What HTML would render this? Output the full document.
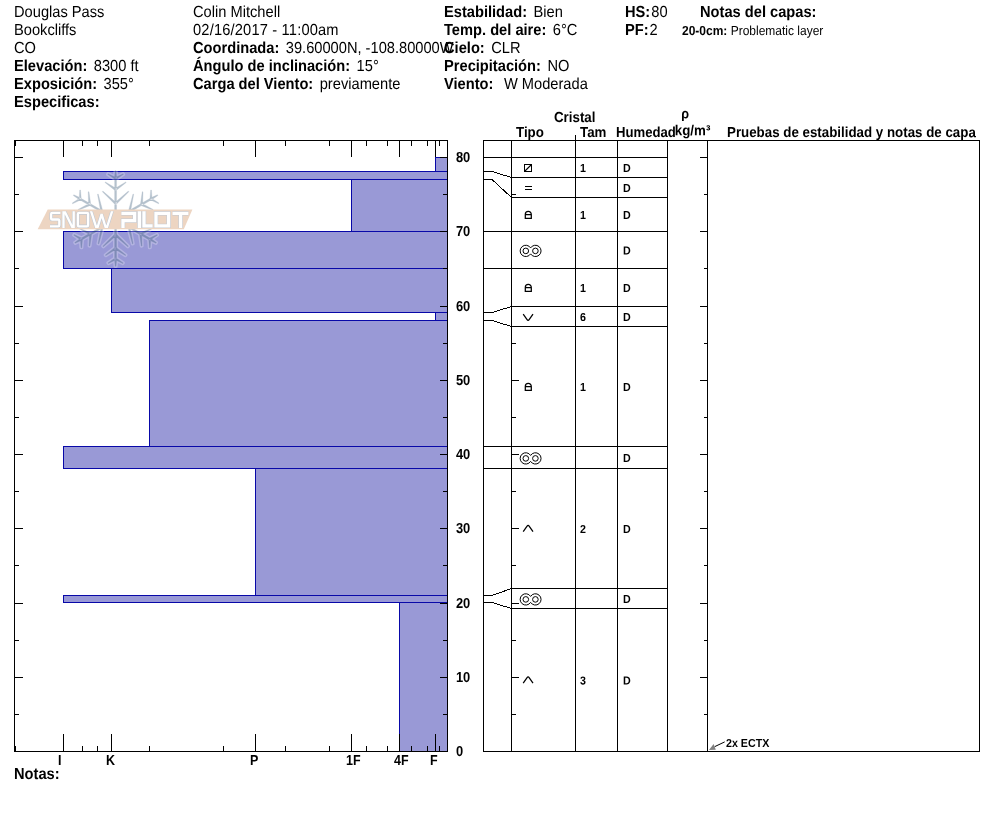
<!DOCTYPE html>
<html><head><meta charset="utf-8"><title>Snow Pit Profile</title>
<style>html,body{margin:0;padding:0;background:#fff;}body{width:994px;height:840px;position:relative;overflow:hidden;font-family:'Liberation Sans',sans-serif;}</style>
</head><body>
<svg width="994" height="840" viewBox="0 0 994 840" style="position:absolute;left:0;top:0;will-change:transform;font-family:'Liberation Sans',sans-serif;" fill="#000">
<rect width="994" height="840" fill="#fff"/>
<text transform="translate(14,16.9) rotate(0.03) scale(0.9174,1)" font-size="15.99">Douglas Pass</text>
<text transform="translate(14,34.9) rotate(0.03) scale(0.9174,1)" font-size="15.99">Bookcliffs</text>
<text transform="translate(14,52.9) rotate(0.03) scale(0.9174,1)" font-size="15.99">CO</text>
<text transform="translate(14,70.9) rotate(0.03) scale(0.9174,1)" font-size="15.99" xml:space="preserve"><tspan font-weight="bold">Elevación:</tspan><tspan dx="2.62"> 8300 ft</tspan></text>
<text transform="translate(14,88.9) rotate(0.03) scale(0.9174,1)" font-size="15.99" xml:space="preserve"><tspan font-weight="bold">Exposición:</tspan><tspan dx="2.62"> 355°</tspan></text>
<text transform="translate(14,106.9) rotate(0.03) scale(0.9174,1)" font-size="15.99" font-weight="bold">Especificas:</text>
<text transform="translate(193,16.9) rotate(0.03) scale(0.9174,1)" font-size="15.99">Colin Mitchell</text>
<text transform="translate(193,34.9) rotate(0.03) scale(0.9174,1)" font-size="15.99" textLength="158.70" lengthAdjust="spacing">02/16/2017 - 11:00am</text>
<text transform="translate(193,52.9) rotate(0.03) scale(0.9174,1)" font-size="15.99" xml:space="preserve"><tspan font-weight="bold">Coordinada:</tspan><tspan dx="2.62"> 39.60000N, -108.80000W</tspan></text>
<text transform="translate(193,70.9) rotate(0.03) scale(0.9174,1)" font-size="15.99" xml:space="preserve"><tspan font-weight="bold">Ángulo de inclinación:</tspan><tspan dx="2.62"> 15°</tspan></text>
<text transform="translate(193,88.9) rotate(0.03) scale(0.9174,1)" font-size="15.99" xml:space="preserve"><tspan font-weight="bold">Carga del Viento:</tspan><tspan dx="2.62"> previamente</tspan></text>
<text transform="translate(444,16.9) rotate(0.03) scale(0.9174,1)" font-size="15.99" xml:space="preserve"><tspan font-weight="bold">Estabilidad:</tspan><tspan dx="2.62"> Bien</tspan></text>
<text transform="translate(444,34.9) rotate(0.03) scale(0.9174,1)" font-size="15.99" xml:space="preserve"><tspan font-weight="bold">Temp. del aire:</tspan><tspan dx="2.62"> 6°C</tspan></text>
<text transform="translate(444,52.9) rotate(0.03) scale(0.9174,1)" font-size="15.99" xml:space="preserve"><tspan font-weight="bold">Cielo:</tspan><tspan dx="2.62"> CLR</tspan></text>
<text transform="translate(444,70.9) rotate(0.03) scale(0.9174,1)" font-size="15.99" xml:space="preserve"><tspan font-weight="bold">Precipitación:</tspan><tspan dx="2.62"> NO</tspan></text>
<text transform="translate(444,88.9) rotate(0.03) scale(0.9174,1)" font-size="15.99" xml:space="preserve"><tspan font-weight="bold">Viento:</tspan><tspan dx="2.62">  W Moderada</tspan></text>
<text transform="translate(625,16.9) rotate(0.03) scale(0.9174,1)" font-size="15.99" xml:space="preserve"><tspan font-weight="bold">HS:</tspan><tspan dx="1.09">80</tspan></text>
<text transform="translate(625,34.9) rotate(0.03) scale(0.9174,1)" font-size="15.99" xml:space="preserve"><tspan font-weight="bold">PF:</tspan><tspan dx="1.09">2</tspan></text>
<text transform="translate(700,16.9) rotate(0.03) scale(0.9174,1)" font-size="15.99" font-weight="bold">Notas del capas:</text>
<text transform="translate(682,35) rotate(0.03) scale(0.9174,1)" font-size="13.08" xml:space="preserve"><tspan font-weight="bold">20-0cm:</tspan><tspan dx="0.00"> Problematic layer</tspan></text>
<text transform="translate(14,778.9) rotate(0.03) scale(0.9174,1)" font-size="15.99" font-weight="bold">Notas:</text>
<g shape-rendering="crispEdges">
<rect x="435" y="157" width="12" height="14" fill="rgba(0,0,153,0.40)"/>
<rect x="63" y="171" width="384" height="8" fill="rgba(0,0,153,0.40)"/>
<rect x="351" y="179" width="96" height="52" fill="rgba(0,0,153,0.40)"/>
<rect x="63" y="231" width="384" height="37" fill="rgba(0,0,153,0.40)"/>
<rect x="111" y="268" width="336" height="44" fill="rgba(0,0,153,0.40)"/>
<rect x="435" y="312" width="12" height="8" fill="rgba(0,0,153,0.40)"/>
<rect x="149" y="320" width="298" height="126" fill="rgba(0,0,153,0.40)"/>
<rect x="63" y="446" width="384" height="22" fill="rgba(0,0,153,0.40)"/>
<rect x="255" y="468" width="192" height="127" fill="rgba(0,0,153,0.40)"/>
<rect x="63" y="595" width="384" height="7" fill="rgba(0,0,153,0.40)"/>
<rect x="399" y="602" width="48" height="149" fill="rgba(0,0,153,0.40)"/>
<rect x="435" y="157" width="12" height="1" fill="#0808a8"/>
<rect x="435" y="171" width="12" height="1" fill="#0808a8"/>
<rect x="435" y="157" width="1" height="15" fill="#0808a8"/>
<rect x="63" y="171" width="384" height="1" fill="#0808a8"/>
<rect x="63" y="179" width="384" height="1" fill="#0808a8"/>
<rect x="63" y="171" width="1" height="9" fill="#0808a8"/>
<rect x="351" y="179" width="96" height="1" fill="#0808a8"/>
<rect x="351" y="231" width="96" height="1" fill="#0808a8"/>
<rect x="351" y="179" width="1" height="53" fill="#0808a8"/>
<rect x="63" y="231" width="384" height="1" fill="#0808a8"/>
<rect x="63" y="268" width="384" height="1" fill="#0808a8"/>
<rect x="63" y="231" width="1" height="38" fill="#0808a8"/>
<rect x="111" y="268" width="336" height="1" fill="#0808a8"/>
<rect x="111" y="312" width="336" height="1" fill="#0808a8"/>
<rect x="111" y="268" width="1" height="45" fill="#0808a8"/>
<rect x="435" y="312" width="12" height="1" fill="#0808a8"/>
<rect x="435" y="320" width="12" height="1" fill="#0808a8"/>
<rect x="435" y="312" width="1" height="9" fill="#0808a8"/>
<rect x="149" y="320" width="298" height="1" fill="#0808a8"/>
<rect x="149" y="446" width="298" height="1" fill="#0808a8"/>
<rect x="149" y="320" width="1" height="127" fill="#0808a8"/>
<rect x="63" y="446" width="384" height="1" fill="#0808a8"/>
<rect x="63" y="468" width="384" height="1" fill="#0808a8"/>
<rect x="63" y="446" width="1" height="23" fill="#0808a8"/>
<rect x="255" y="468" width="192" height="1" fill="#0808a8"/>
<rect x="255" y="595" width="192" height="1" fill="#0808a8"/>
<rect x="255" y="468" width="1" height="128" fill="#0808a8"/>
<rect x="63" y="595" width="384" height="1" fill="#0808a8"/>
<rect x="63" y="602" width="384" height="1" fill="#0808a8"/>
<rect x="63" y="595" width="1" height="8" fill="#0808a8"/>
<rect x="399" y="602" width="48" height="1" fill="#0808a8"/>
<rect x="399" y="602" width="1" height="150" fill="#0808a8"/>
<rect x="14" y="140" width="434" height="1" fill="#000"/>
<rect x="14" y="751" width="434" height="1" fill="#000"/>
<rect x="14" y="140" width="1" height="612" fill="#000"/>
<rect x="447" y="140" width="1" height="612" fill="#000"/>
<rect x="63" y="140" width="1" height="17" fill="#000"/>
<rect x="63" y="734" width="1" height="18" fill="#000"/>
<rect x="111" y="140" width="1" height="17" fill="#000"/>
<rect x="111" y="734" width="1" height="18" fill="#000"/>
<rect x="255" y="140" width="1" height="17" fill="#000"/>
<rect x="255" y="734" width="1" height="18" fill="#000"/>
<rect x="351" y="140" width="1" height="17" fill="#000"/>
<rect x="351" y="734" width="1" height="18" fill="#000"/>
<rect x="399" y="140" width="1" height="17" fill="#000"/>
<rect x="399" y="734" width="1" height="18" fill="#000"/>
<rect x="435" y="140" width="1" height="17" fill="#000"/>
<rect x="435" y="734" width="1" height="18" fill="#000"/>
<rect x="15" y="140" width="1" height="6" fill="#000"/>
<rect x="15" y="746" width="1" height="6" fill="#000"/>
<rect x="82" y="140" width="1" height="6" fill="#000"/>
<rect x="82" y="746" width="1" height="6" fill="#000"/>
<rect x="97" y="140" width="1" height="6" fill="#000"/>
<rect x="97" y="746" width="1" height="6" fill="#000"/>
<rect x="149" y="140" width="1" height="6" fill="#000"/>
<rect x="149" y="746" width="1" height="6" fill="#000"/>
<rect x="223" y="140" width="1" height="6" fill="#000"/>
<rect x="223" y="746" width="1" height="6" fill="#000"/>
<rect x="285" y="140" width="1" height="6" fill="#000"/>
<rect x="285" y="746" width="1" height="6" fill="#000"/>
<rect x="329" y="140" width="1" height="6" fill="#000"/>
<rect x="329" y="746" width="1" height="6" fill="#000"/>
<rect x="366" y="140" width="1" height="6" fill="#000"/>
<rect x="366" y="746" width="1" height="6" fill="#000"/>
<rect x="387" y="140" width="1" height="6" fill="#000"/>
<rect x="387" y="746" width="1" height="6" fill="#000"/>
<rect x="411" y="140" width="1" height="6" fill="#000"/>
<rect x="411" y="746" width="1" height="6" fill="#000"/>
<rect x="427" y="140" width="1" height="6" fill="#000"/>
<rect x="427" y="746" width="1" height="6" fill="#000"/>
<rect x="439" y="140" width="1" height="6" fill="#000"/>
<rect x="439" y="746" width="1" height="6" fill="#000"/>
<rect x="14" y="714" width="5" height="1" fill="#000"/>
<rect x="443" y="714" width="5" height="1" fill="#000"/>
<rect x="14" y="677" width="9" height="1" fill="#000"/>
<rect x="440" y="677" width="8" height="1" fill="#000"/>
<rect x="14" y="640" width="5" height="1" fill="#000"/>
<rect x="443" y="640" width="5" height="1" fill="#000"/>
<rect x="14" y="603" width="9" height="1" fill="#000"/>
<rect x="440" y="603" width="8" height="1" fill="#000"/>
<rect x="14" y="565" width="5" height="1" fill="#000"/>
<rect x="443" y="565" width="5" height="1" fill="#000"/>
<rect x="14" y="528" width="9" height="1" fill="#000"/>
<rect x="440" y="528" width="8" height="1" fill="#000"/>
<rect x="14" y="491" width="5" height="1" fill="#000"/>
<rect x="443" y="491" width="5" height="1" fill="#000"/>
<rect x="14" y="454" width="9" height="1" fill="#000"/>
<rect x="440" y="454" width="8" height="1" fill="#000"/>
<rect x="14" y="417" width="5" height="1" fill="#000"/>
<rect x="443" y="417" width="5" height="1" fill="#000"/>
<rect x="14" y="380" width="9" height="1" fill="#000"/>
<rect x="440" y="380" width="8" height="1" fill="#000"/>
<rect x="14" y="343" width="5" height="1" fill="#000"/>
<rect x="443" y="343" width="5" height="1" fill="#000"/>
<rect x="14" y="306" width="9" height="1" fill="#000"/>
<rect x="440" y="306" width="8" height="1" fill="#000"/>
<rect x="14" y="268" width="5" height="1" fill="#000"/>
<rect x="443" y="268" width="5" height="1" fill="#000"/>
<rect x="14" y="231" width="9" height="1" fill="#000"/>
<rect x="440" y="231" width="8" height="1" fill="#000"/>
<rect x="14" y="194" width="5" height="1" fill="#000"/>
<rect x="443" y="194" width="5" height="1" fill="#000"/>
<rect x="14" y="157" width="9" height="1" fill="#000"/>
<rect x="440" y="157" width="8" height="1" fill="#000"/>
</g>
<text transform="translate(58.1,764.9) rotate(0.03) scale(0.862,1)" font-size="14.5" font-weight="bold">I</text>
<text transform="translate(106.1,764.9) rotate(0.03) scale(0.862,1)" font-size="14.5" font-weight="bold">K</text>
<text transform="translate(250.1,764.9) rotate(0.03) scale(0.862,1)" font-size="14.5" font-weight="bold">P</text>
<text transform="translate(346.1,764.9) rotate(0.03) scale(0.862,1)" font-size="14.5" font-weight="bold">1F</text>
<text transform="translate(394.1,764.9) rotate(0.03) scale(0.862,1)" font-size="14.5" font-weight="bold">4F</text>
<text transform="translate(430.1,764.9) rotate(0.03) scale(0.862,1)" font-size="14.5" font-weight="bold">F</text>
<text transform="translate(455.9,756) rotate(0.03) scale(0.89,1)" font-size="14.5" font-weight="bold">0</text>
<text transform="translate(455.9,682) rotate(0.03) scale(0.89,1)" font-size="14.5" font-weight="bold">10</text>
<text transform="translate(455.9,608) rotate(0.03) scale(0.89,1)" font-size="14.5" font-weight="bold">20</text>
<text transform="translate(455.9,533) rotate(0.03) scale(0.89,1)" font-size="14.5" font-weight="bold">30</text>
<text transform="translate(455.9,459) rotate(0.03) scale(0.89,1)" font-size="14.5" font-weight="bold">40</text>
<text transform="translate(455.9,385) rotate(0.03) scale(0.89,1)" font-size="14.5" font-weight="bold">50</text>
<text transform="translate(455.9,311) rotate(0.03) scale(0.89,1)" font-size="14.5" font-weight="bold">60</text>
<text transform="translate(455.9,236) rotate(0.03) scale(0.89,1)" font-size="14.5" font-weight="bold">70</text>
<text transform="translate(455.9,162) rotate(0.03) scale(0.89,1)" font-size="14.5" font-weight="bold">80</text>
<g shape-rendering="crispEdges">
<rect x="483" y="140" width="497" height="1" fill="#000"/>
<rect x="483" y="751" width="497" height="1" fill="#000"/>
<rect x="483" y="140" width="1" height="612" fill="#000"/>
<rect x="511" y="140" width="1" height="612" fill="#000"/>
<rect x="575" y="140" width="1" height="612" fill="#000"/>
<rect x="617" y="140" width="1" height="612" fill="#000"/>
<rect x="667" y="140" width="1" height="612" fill="#000"/>
<rect x="707" y="140" width="1" height="612" fill="#000"/>
<rect x="979" y="140" width="1" height="612" fill="#000"/>
<rect x="575" y="135" width="1" height="6" fill="#000"/>
<rect x="511" y="157" width="157" height="1" fill="#000"/>
<rect x="511" y="177" width="157" height="1" fill="#000"/>
<rect x="511" y="197" width="157" height="1" fill="#000"/>
<rect x="511" y="231" width="157" height="1" fill="#000"/>
<rect x="511" y="268" width="157" height="1" fill="#000"/>
<rect x="511" y="306" width="157" height="1" fill="#000"/>
<rect x="511" y="326" width="157" height="1" fill="#000"/>
<rect x="511" y="446" width="157" height="1" fill="#000"/>
<rect x="511" y="468" width="157" height="1" fill="#000"/>
<rect x="511" y="588" width="157" height="1" fill="#000"/>
<rect x="511" y="608" width="157" height="1" fill="#000"/>
<rect x="483" y="157" width="29" height="1" fill="#000"/>
<rect x="483" y="231" width="29" height="1" fill="#000"/>
<rect x="483" y="268" width="29" height="1" fill="#000"/>
<rect x="483" y="446" width="29" height="1" fill="#000"/>
<rect x="483" y="468" width="29" height="1" fill="#000"/>
<rect x="511" y="714" width="5" height="1" fill="#000"/>
<rect x="704" y="714" width="4" height="1" fill="#000"/>
<rect x="511" y="677" width="8" height="1" fill="#000"/>
<rect x="700" y="677" width="8" height="1" fill="#000"/>
<rect x="511" y="640" width="5" height="1" fill="#000"/>
<rect x="704" y="640" width="4" height="1" fill="#000"/>
<rect x="511" y="603" width="8" height="1" fill="#000"/>
<rect x="700" y="603" width="8" height="1" fill="#000"/>
<rect x="511" y="565" width="5" height="1" fill="#000"/>
<rect x="704" y="565" width="4" height="1" fill="#000"/>
<rect x="511" y="528" width="8" height="1" fill="#000"/>
<rect x="700" y="528" width="8" height="1" fill="#000"/>
<rect x="511" y="491" width="5" height="1" fill="#000"/>
<rect x="704" y="491" width="4" height="1" fill="#000"/>
<rect x="511" y="454" width="8" height="1" fill="#000"/>
<rect x="700" y="454" width="8" height="1" fill="#000"/>
<rect x="511" y="417" width="5" height="1" fill="#000"/>
<rect x="704" y="417" width="4" height="1" fill="#000"/>
<rect x="511" y="380" width="8" height="1" fill="#000"/>
<rect x="700" y="380" width="8" height="1" fill="#000"/>
<rect x="511" y="343" width="5" height="1" fill="#000"/>
<rect x="704" y="343" width="4" height="1" fill="#000"/>
<rect x="511" y="306" width="8" height="1" fill="#000"/>
<rect x="700" y="306" width="8" height="1" fill="#000"/>
<rect x="511" y="268" width="5" height="1" fill="#000"/>
<rect x="704" y="268" width="4" height="1" fill="#000"/>
<rect x="511" y="231" width="8" height="1" fill="#000"/>
<rect x="700" y="231" width="8" height="1" fill="#000"/>
<rect x="511" y="194" width="5" height="1" fill="#000"/>
<rect x="704" y="194" width="4" height="1" fill="#000"/>
<rect x="511" y="157" width="8" height="1" fill="#000"/>
<rect x="700" y="157" width="8" height="1" fill="#000"/>
</g>
<polyline shape-rendering="crispEdges" fill="none" stroke="#000" stroke-width="1" points="483,171.5 492,171.5 511.5,177.5"/>
<polyline shape-rendering="crispEdges" fill="none" stroke="#000" stroke-width="1" points="483,179.5 492,179.5 511.5,197.5"/>
<polyline shape-rendering="crispEdges" fill="none" stroke="#000" stroke-width="1" points="483,312.5 492,312.5 511.5,306.5"/>
<polyline shape-rendering="crispEdges" fill="none" stroke="#000" stroke-width="1" points="483,320.5 492,320.5 511.5,326.5"/>
<polyline shape-rendering="crispEdges" fill="none" stroke="#000" stroke-width="1" points="483,595.5 492,595.5 511.5,588.5"/>
<polyline shape-rendering="crispEdges" fill="none" stroke="#000" stroke-width="1" points="483,602.5 492,602.5 511.5,608.5"/>
<text transform="translate(554,122) rotate(0.03) scale(0.9174,1)" font-size="14.53" font-weight="bold">Cristal</text>
<text transform="translate(516,137) rotate(0.03) scale(0.9174,1)" font-size="14.53" font-weight="bold">Tipo</text>
<text transform="translate(580,137) rotate(0.03) scale(0.9174,1)" font-size="14.53" font-weight="bold">Tam</text>
<text transform="translate(616,137) rotate(0.03) scale(0.9174,1)" font-size="14.53" font-weight="bold" textLength="65.29" lengthAdjust="spacingAndGlyphs">Humedad</text>
<text transform="translate(674.8,135.3) rotate(0.03) scale(0.9174,1)" font-size="14.53" font-weight="bold">kg/m³</text>
<text transform="translate(681.3,118.3) rotate(0.03) scale(0.9174,1)" font-size="13.73" font-weight="bold">ρ</text>
<text transform="translate(727,137) rotate(0.03) scale(0.9174,1)" font-size="14.53" font-weight="bold">Pruebas de estabilidad y notas de capa</text>
<text transform="translate(580,172.0) rotate(0.03) scale(0.9174,1)" font-size="11.63" font-weight="bold">1</text>
<text transform="translate(623,172.0) rotate(0.03) scale(0.9174,1)" font-size="11.63" font-weight="bold">D</text>
<g shape-rendering="crispEdges" fill="none" stroke="#000"><rect x="524.5" y="164.5" width="7" height="7"/></g><path d="M524.5 171.5L531.5 164.5" stroke="#000" stroke-width="1.1"/>
<text transform="translate(623,192.0) rotate(0.03) scale(0.9174,1)" font-size="11.63" font-weight="bold">D</text>
<rect x="525" y="186" width="7" height="1" fill="#000"/>
<rect x="525" y="189" width="7" height="1" fill="#000"/>
<text transform="translate(580,219.0) rotate(0.03) scale(0.9174,1)" font-size="11.63" font-weight="bold">1</text>
<text transform="translate(623,219.0) rotate(0.03) scale(0.9174,1)" font-size="11.63" font-weight="bold">D</text>
<path d="M525.3 218.3V214.4A3 3 0 0 1 531.3 214.4V218.3Z M525.3 214.7H531.3" fill="none" stroke="#000" stroke-width="1.25"/>
<text transform="translate(623,254.5) rotate(0.03) scale(0.9174,1)" font-size="11.63" font-weight="bold">D</text>
<g fill="none" stroke="#000" stroke-width="1"><path d="M530.5999999999999 247.92A5.65 5.65 0 1 0 530.5999999999999 253.88A5.65 5.65 0 1 0 530.5999999999999 247.92Z"/><circle cx="525.8" cy="250.9" r="2.8"/><circle cx="535.4" cy="250.9" r="2.8"/></g>
<text transform="translate(580,292.0) rotate(0.03) scale(0.9174,1)" font-size="11.63" font-weight="bold">1</text>
<text transform="translate(623,292.0) rotate(0.03) scale(0.9174,1)" font-size="11.63" font-weight="bold">D</text>
<path d="M525.3 291.3V287.4A3 3 0 0 1 531.3 287.4V291.3Z M525.3 287.7H531.3" fill="none" stroke="#000" stroke-width="1.25"/>
<text transform="translate(580,321.0) rotate(0.03) scale(0.9174,1)" font-size="11.63" font-weight="bold">6</text>
<text transform="translate(623,321.0) rotate(0.03) scale(0.9174,1)" font-size="11.63" font-weight="bold">D</text>
<path d="M523.2 314.2L526.9 319.4Q528.1 321.2 529.3 319.4L533 314.2" fill="none" stroke="#000" stroke-width="1.25"/>
<text transform="translate(580,391.0) rotate(0.03) scale(0.9174,1)" font-size="11.63" font-weight="bold">1</text>
<text transform="translate(623,391.0) rotate(0.03) scale(0.9174,1)" font-size="11.63" font-weight="bold">D</text>
<path d="M525.3 390.3V386.4A3 3 0 0 1 531.3 386.4V390.3Z M525.3 386.7H531.3" fill="none" stroke="#000" stroke-width="1.25"/>
<text transform="translate(623,462.0) rotate(0.03) scale(0.9174,1)" font-size="11.63" font-weight="bold">D</text>
<g fill="none" stroke="#000" stroke-width="1"><path d="M530.5999999999999 455.42A5.65 5.65 0 1 0 530.5999999999999 461.38A5.65 5.65 0 1 0 530.5999999999999 455.42Z"/><circle cx="525.8" cy="458.4" r="2.8"/><circle cx="535.4" cy="458.4" r="2.8"/></g>
<text transform="translate(580,533.0) rotate(0.03) scale(0.9174,1)" font-size="11.63" font-weight="bold">2</text>
<text transform="translate(623,533.0) rotate(0.03) scale(0.9174,1)" font-size="11.63" font-weight="bold">D</text>
<path d="M523.2 531.6L526.9 526.3Q528.1 524.5 529.3 526.3L533 531.6" fill="none" stroke="#000" stroke-width="1.25"/>
<text transform="translate(623,603.0) rotate(0.03) scale(0.9174,1)" font-size="11.63" font-weight="bold">D</text>
<g fill="none" stroke="#000" stroke-width="1"><path d="M530.5999999999999 596.42A5.65 5.65 0 1 0 530.5999999999999 602.38A5.65 5.65 0 1 0 530.5999999999999 596.42Z"/><circle cx="525.8" cy="599.4" r="2.8"/><circle cx="535.4" cy="599.4" r="2.8"/></g>
<text transform="translate(580,684.5) rotate(0.03) scale(0.9174,1)" font-size="11.63" font-weight="bold">3</text>
<text transform="translate(623,684.5) rotate(0.03) scale(0.9174,1)" font-size="11.63" font-weight="bold">D</text>
<path d="M523.2 683.1L526.9 677.8Q528.1 676.0 529.3 677.8L533 683.1" fill="none" stroke="#000" stroke-width="1.25"/>
<text transform="translate(726,747) rotate(0.03) scale(0.9174,1)" font-size="11.63" font-weight="bold">2x ECTX</text>
<path d="M724.7 741.9L714.6 746.7" stroke="#000" stroke-width="1" fill="none"/>
<path d="M709 750L713.6 744L715.8 749.8Z" fill="#808080"/>
<g opacity="0.26"><path d="M114.60 215.40L114.65 176.40L115.15 170.80L116.05 170.80L116.55 176.40L116.60 215.40ZM115.60 205.00L102.33 191.69L102.87 191.11L115.60 202.00ZM115.60 205.00L128.87 191.69L128.33 191.11L115.60 202.00ZM115.60 190.90L104.97 182.52L105.43 181.88L115.60 188.10ZM115.60 190.90L126.23 182.52L125.77 181.88L115.60 188.10ZM115.60 179.85L107.69 174.34L108.11 173.66L115.60 177.35ZM115.60 179.85L123.51 174.34L123.09 173.66L115.60 177.35ZM118.56 216.53L152.36 197.08L157.46 194.71L157.91 195.49L153.31 198.72L119.56 218.27ZM128.07 212.20L132.96 194.05L133.74 194.23L130.67 210.70ZM128.07 212.20L146.23 217.04L146.46 216.27L130.67 210.70ZM140.28 205.15L142.22 191.75L143.01 191.83L142.71 203.75ZM140.28 205.15L152.85 210.17L153.18 209.44L142.71 203.75ZM149.85 199.62L150.67 190.02L151.47 190.05L152.02 198.38ZM149.85 199.62L158.58 203.72L158.96 203.02L152.02 198.38ZM119.43 220.49L151.99 239.35L156.43 242.47L156.00 243.23L151.08 240.94L118.46 222.17ZM127.63 226.35L145.16 221.68L145.38 222.42L130.14 227.80ZM127.63 226.35L132.35 243.86L133.10 243.68L130.14 227.80ZM139.42 233.15L151.55 228.31L151.86 229.01L141.76 234.50ZM139.42 233.15L141.29 246.08L142.05 246.00L141.76 234.50ZM148.65 238.48L157.08 234.53L157.44 235.21L150.74 239.69ZM148.65 238.48L149.44 247.75L150.21 247.73L150.74 239.69ZM116.56 223.26L116.52 260.89L116.03 266.30L115.17 266.30L114.68 260.89L114.63 223.26ZM115.60 233.30L128.41 246.14L127.88 246.70L115.60 236.19ZM115.60 233.30L102.79 246.14L103.32 246.70L115.60 236.19ZM115.60 246.90L125.86 254.98L125.41 255.61L115.60 249.60ZM115.60 246.90L105.34 254.98L105.79 255.61L115.60 249.60ZM115.60 257.57L123.23 262.88L122.83 263.54L115.60 259.98ZM115.60 257.57L107.97 262.88L108.37 263.54L115.60 259.98ZM112.74 222.17L80.12 240.94L75.20 243.23L74.77 242.47L79.21 239.35L111.77 220.49ZM103.57 226.35L98.85 243.86L98.10 243.68L101.06 227.80ZM103.57 226.35L86.04 221.68L85.82 222.42L101.06 227.80ZM91.78 233.15L89.91 246.08L89.15 246.00L89.44 234.50ZM91.78 233.15L79.65 228.31L79.34 229.01L89.44 234.50ZM82.55 238.48L81.76 247.75L80.99 247.73L80.46 239.69ZM82.55 238.48L74.12 234.53L73.76 235.21L80.46 239.69ZM111.64 218.27L77.89 198.72L73.29 195.49L73.74 194.71L78.84 197.08L112.64 216.53ZM103.13 212.20L84.97 217.04L84.74 216.27L100.53 210.70ZM103.13 212.20L98.24 194.05L97.46 194.23L100.53 210.70ZM90.92 205.15L78.35 210.17L78.02 209.44L88.49 203.75ZM90.92 205.15L88.98 191.75L88.19 191.83L88.49 203.75ZM81.35 199.62L72.62 203.72L72.24 203.02L79.18 198.38ZM81.35 199.62L80.53 190.02L79.73 190.05L79.18 198.38Z" fill="#fff" stroke="#fff" stroke-width="3.2" stroke-linejoin="round"/></g><g opacity="0.29"><path d="M114.60 215.40L114.65 176.40L115.15 170.80L116.05 170.80L116.55 176.40L116.60 215.40ZM115.60 205.00L102.33 191.69L102.87 191.11L115.60 202.00ZM115.60 205.00L128.87 191.69L128.33 191.11L115.60 202.00ZM115.60 190.90L104.97 182.52L105.43 181.88L115.60 188.10ZM115.60 190.90L126.23 182.52L125.77 181.88L115.60 188.10ZM115.60 179.85L107.69 174.34L108.11 173.66L115.60 177.35ZM115.60 179.85L123.51 174.34L123.09 173.66L115.60 177.35ZM118.56 216.53L152.36 197.08L157.46 194.71L157.91 195.49L153.31 198.72L119.56 218.27ZM128.07 212.20L132.96 194.05L133.74 194.23L130.67 210.70ZM128.07 212.20L146.23 217.04L146.46 216.27L130.67 210.70ZM140.28 205.15L142.22 191.75L143.01 191.83L142.71 203.75ZM140.28 205.15L152.85 210.17L153.18 209.44L142.71 203.75ZM149.85 199.62L150.67 190.02L151.47 190.05L152.02 198.38ZM149.85 199.62L158.58 203.72L158.96 203.02L152.02 198.38ZM119.43 220.49L151.99 239.35L156.43 242.47L156.00 243.23L151.08 240.94L118.46 222.17ZM127.63 226.35L145.16 221.68L145.38 222.42L130.14 227.80ZM127.63 226.35L132.35 243.86L133.10 243.68L130.14 227.80ZM139.42 233.15L151.55 228.31L151.86 229.01L141.76 234.50ZM139.42 233.15L141.29 246.08L142.05 246.00L141.76 234.50ZM148.65 238.48L157.08 234.53L157.44 235.21L150.74 239.69ZM148.65 238.48L149.44 247.75L150.21 247.73L150.74 239.69ZM116.56 223.26L116.52 260.89L116.03 266.30L115.17 266.30L114.68 260.89L114.63 223.26ZM115.60 233.30L128.41 246.14L127.88 246.70L115.60 236.19ZM115.60 233.30L102.79 246.14L103.32 246.70L115.60 236.19ZM115.60 246.90L125.86 254.98L125.41 255.61L115.60 249.60ZM115.60 246.90L105.34 254.98L105.79 255.61L115.60 249.60ZM115.60 257.57L123.23 262.88L122.83 263.54L115.60 259.98ZM115.60 257.57L107.97 262.88L108.37 263.54L115.60 259.98ZM112.74 222.17L80.12 240.94L75.20 243.23L74.77 242.47L79.21 239.35L111.77 220.49ZM103.57 226.35L98.85 243.86L98.10 243.68L101.06 227.80ZM103.57 226.35L86.04 221.68L85.82 222.42L101.06 227.80ZM91.78 233.15L89.91 246.08L89.15 246.00L89.44 234.50ZM91.78 233.15L79.65 228.31L79.34 229.01L89.44 234.50ZM82.55 238.48L81.76 247.75L80.99 247.73L80.46 239.69ZM82.55 238.48L74.12 234.53L73.76 235.21L80.46 239.69ZM111.64 218.27L77.89 198.72L73.29 195.49L73.74 194.71L78.84 197.08L112.64 216.53ZM103.13 212.20L84.97 217.04L84.74 216.27L100.53 210.70ZM103.13 212.20L98.24 194.05L97.46 194.23L100.53 210.70ZM90.92 205.15L78.35 210.17L78.02 209.44L88.49 203.75ZM90.92 205.15L88.98 191.75L88.19 191.83L88.49 203.75ZM81.35 199.62L72.62 203.72L72.24 203.02L79.18 198.38ZM81.35 199.62L80.53 190.02L79.73 190.05L79.18 198.38Z" fill="#002c54" stroke="#002c54" stroke-width="0.3"/></g><path d="M47.7 209.5H192.4L183.8 229.2H37.7Z" fill="#edd5c2"/><clipPath id="lc"><rect x="40" y="211.3" width="155" height="16.6"/></clipPath><g clip-path="url(#lc)"><path d="M60.4 212.9H52.2Q51.1 212.9 51.1 214V218.4Q51.1 219.5 52.2 219.5H58.2Q59.3 219.5 59.3 220.6V225.2Q59.3 226.3 58.2 226.3H50M63.5 230V209.2L73.7 230V209M79 212.9H87Q88.1 212.9 88.1 214V225.2Q88.1 226.3 87 226.3H79Q77.9 226.3 77.9 225.2V214Q77.9 212.9 79 212.9ZM90.4 209L96.9 229.5L101.6 214.2L106.3 229.5L112.8 209" fill="none" stroke="#c2cad4" stroke-width="3.5" stroke-linejoin="miter" stroke-miterlimit="3"/><path d="M60.4 212.9H52.2Q51.1 212.9 51.1 214V218.4Q51.1 219.5 52.2 219.5H58.2Q59.3 219.5 59.3 220.6V225.2Q59.3 226.3 58.2 226.3H50M63.5 230V209.2L73.7 230V209M79 212.9H87Q88.1 212.9 88.1 214V225.2Q88.1 226.3 87 226.3H79Q77.9 226.3 77.9 225.2V214Q77.9 212.9 79 212.9ZM90.4 209L96.9 229.5L101.6 214.2L106.3 229.5L112.8 209" fill="none" stroke="#fff" stroke-width="2.3" stroke-linejoin="miter" stroke-miterlimit="3"/><path d="M123 229V220.6H134.6V213.3H121.4M139.4 209V230M144 209V225.9H152.6M156 213.3H168.6V225.9H156ZM172.5 213.3H188.4M180.6 213.3V230" fill="none" stroke="#c2cad4" stroke-width="4.4" stroke-linejoin="miter"/><path d="M123 229V220.6H134.6V213.3H121.4M139.4 209V230M144 209V225.9H152.6M156 213.3H168.6V225.9H156ZM172.5 213.3H188.4M180.6 213.3V230" fill="none" stroke="#fff" stroke-width="3.3" stroke-linejoin="miter"/></g>
</svg>
</body></html>
